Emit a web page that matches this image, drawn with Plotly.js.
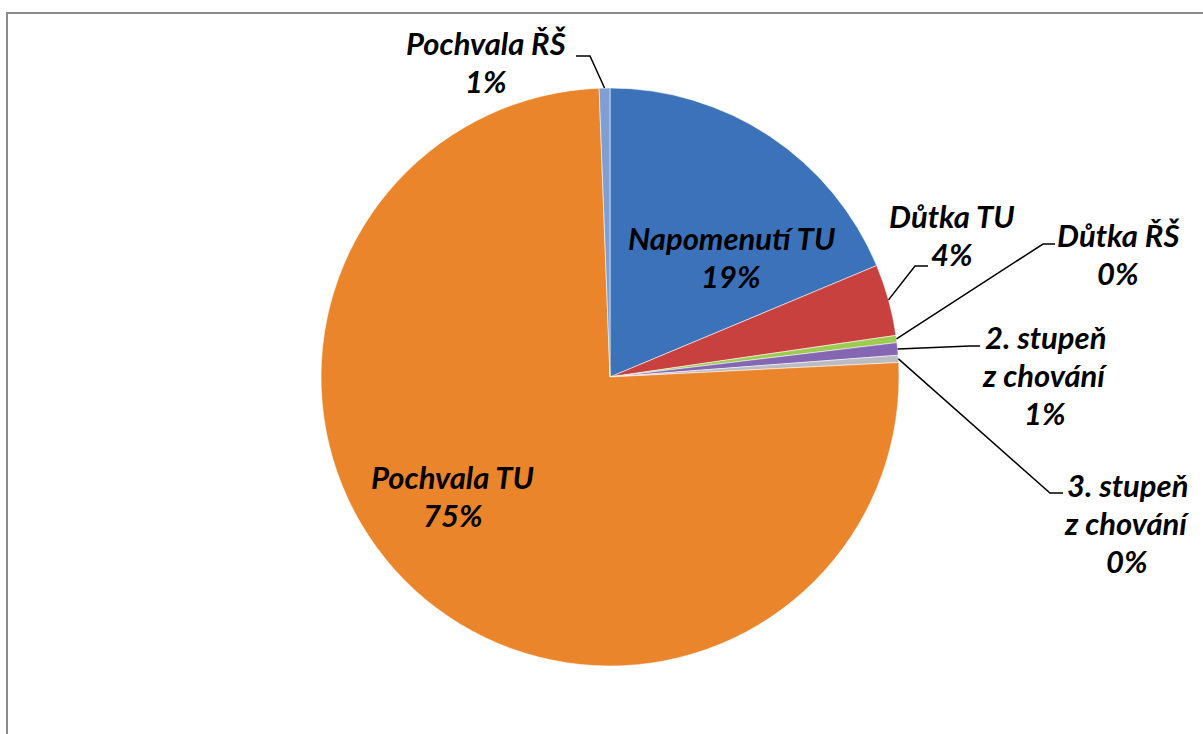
<!DOCTYPE html>
<html>
<head>
<meta charset="utf-8">
<script src="https://cdn.plot.ly/plotly-3.0.1.min.js"></script>
<style>
  html, body { margin: 0; padding: 0; background: #ffffff; }
  #chart { width: 1203px; height: 734px; }
</style>
</head>
<body>
<div id="chart"></div>
<script>
// ---- data (percent shares) ----
const categories = ["Napomenutí TU", "Důtka TU", "Důtka ŘŠ", "2. stupeň z chování",
                    "3. stupeň z chování", "Pochvala TU", "Pochvala ŘŠ"];
const values = [18.7, 4.0, 0.4, 0.7, 0.4, 75.2, 0.6];
// label text lines (name split as in the picture)
const labelLines = [["Napomenutí TU"], ["Důtka TU"], ["Důtka ŘŠ"], ["2. stupeň", "z chování"],
                    ["3. stupeň", "z chování"], ["Pochvala TU"], ["Pochvala ŘŠ"]];
const colors = ["#3B72BA", "#C8413E", "#9DCB50", "#8566B3", "#B9BCC0", "#EA852B", "#7F9FD2"];

// ---- layout constants ----
const W = 1203, H = 734;
const CX = 610, CY = 377, R = 289;
const PITCH = 38, FS = 31;
// label first-line baseline centre (layout), and leader elbow: [textEndX, elbowX, elbowY] or null
const labelPos = [
  {x: 731, y: 248, leader: null},
  {x: 952, y: 226, leader: [928, 915, 266]},
  {x: 1118, y: 245, leader: [1055, 1043, 244]},
  {x: 1045, y: 347, leader: [980, 970, 346]},
  {x: 1127, y: 495, leader: [1063, 1050, 493]},
  {x: 453, y: 487, leader: null},
  {x: 486, y: 53, leader: [576, 590, 56]}
];

const px = x => x / W;
const py = y => 1 - y / H;

const total = values.reduce((a, b) => a + b, 0);
const annotations = [];
const shapes = [];
let cum = 0;
values.forEach((v, i) => {
  const mid = (cum + v / 2) / total * 2 * Math.PI;
  cum += v;
  const ex = CX + R * Math.sin(mid), ey = CY - R * Math.cos(mid);
  const pct = Math.round(v / total * 100) + "%";
  const lines = labelLines[i].concat([pct]);
  const p = labelPos[i];
  lines.forEach((t, k) => {
    annotations.push({
      text: "<b><i>" + t + "</i></b>",
      xref: "paper", yref: "paper",
      x: px(p.x), y: py(p.y + k * PITCH - 10),
      xanchor: "center", yanchor: "middle",
      showarrow: false,
      font: {family: "Lato, 'Open Sans', sans-serif", size: FS, color: "#000000"}
    });
  });
  if (p.leader) {
    const [tx, bx, by] = p.leader;
    shapes.push({
      type: "path", xref: "paper", yref: "paper",
      path: `M ${px(tx)} ${py(by)} L ${px(bx)} ${py(by)} L ${px(ex)} ${py(ey)}`,
      line: {color: "#000000", width: 1.5}
    });
  }
});

// chart frame (cropped on right and bottom)
shapes.push({
  type: "rect", xref: "paper", yref: "paper",
  x0: px(7), x1: 1.05, y0: -0.05, y1: py(13),
  line: {color: "#8C8C8C", width: 2}, fillcolor: "rgba(0,0,0,0)", layer: "below"
});

const trace = {
  type: "pie",
  labels: categories,
  values: values,
  sort: false,
  direction: "clockwise",
  rotation: 0,
  textinfo: "none",
  textposition: "none",
  hoverinfo: "label+percent",
  marker: {colors: colors, line: {color: "rgba(255,255,255,0.55)", width: 1}},
  domain: {x: [px(CX - R), px(CX + R)], y: [py(CY + R), py(CY - R)]},
  showlegend: false
};

const layout = {
  width: W, height: H,
  margin: {l: 0, r: 0, t: 0, b: 0},
  paper_bgcolor: "#ffffff",
  showlegend: false,
  annotations: annotations,
  shapes: shapes
};

Plotly.newPlot("chart", [trace], layout, {displayModeBar: false, staticPlot: true});
</script>
</body>
</html>
